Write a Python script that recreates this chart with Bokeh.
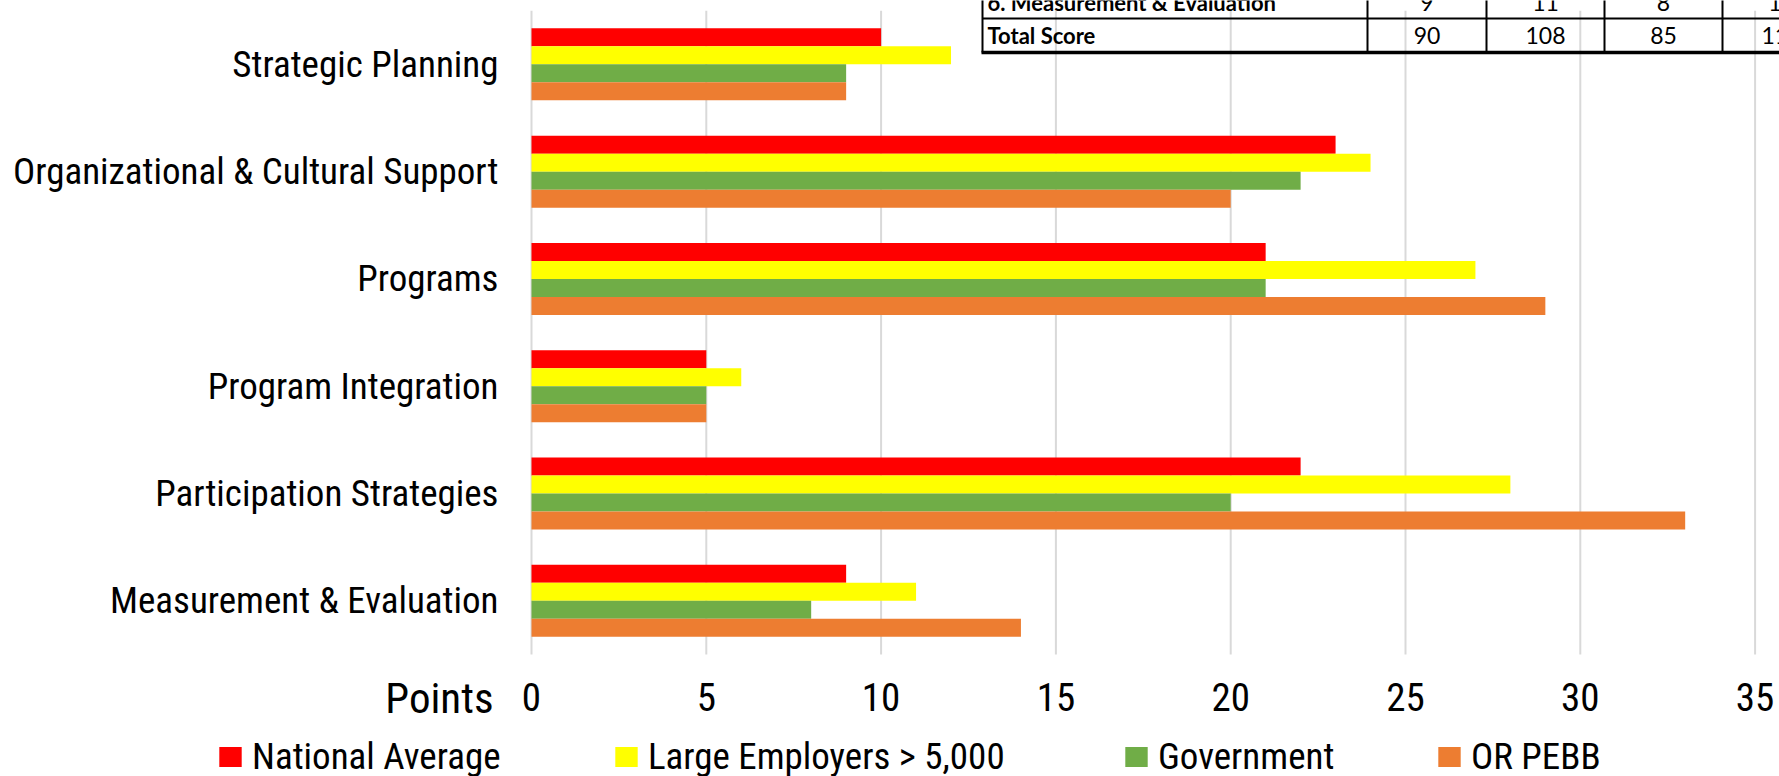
from bokeh.plotting import figure
from bokeh.models import Range1d, FixedTicker, Legend, LegendItem, Label
from bokeh.embed import file_html
from bokeh.resources import INLINE
from bokeh.core.properties import value

# ---------------- data ----------------
categories = ["Strategic Planning", "Organizational & Cultural Support", "Programs",
              "Program Integration", "Participation Strategies", "Measurement & Evaluation"]
series_names = ["National Average", "Large Employers > 5,000", "Government", "OR PEBB"]
national_average = [10, 23, 21, 5, 22, 9]
large_employers = [12, 24, 27, 6, 28, 11]
government = [9, 22, 21, 5, 20, 8]
or_pebb = [9, 20, 29, 5, 33, 14]
x_ticks = [0, 5, 10, 15, 20, 25, 30, 35]
x_axis_title = "Points"
table_rows = ["6. Measurement & Evaluation", "Total Score"]

series_values = [national_average, large_employers, government, or_pebb]

# ---------------- layout / style ----------------
W, H = 1779, 776
X0 = 531               # px of x = 0
Y0 = 654               # px (from top) of the bottom of the category bands
PX_PER_X = 34.96       # px per point on x
PX_PER_CAT = 107.3     # px per category band
NARROW = "Liberation Sans Narrow, Arial Narrow, Roboto Condensed, Liberation Sans, sans-serif"
TABLE_FONT = "Lato, Carlito, Calibri, sans-serif"
colors = ["#ff0000", "#ffff00", "#70ad47", "#ed7d31"]

n = len(categories)
cat_y = [n - i - 0.5 for i in range(n)]


def dx(px):
    return (px - X0) / PX_PER_X


def dy(py):
    return (Y0 - py) / PX_PER_CAT


p = figure(width=W, height=H, x_range=Range1d(dx(0), dx(W)), y_range=Range1d(dy(H), dy(0)),
           output_backend="svg", toolbar_location=None,
           min_border_left=0, min_border_right=0, min_border_top=0, min_border_bottom=0,
           outline_line_color=None,
           background_fill_color="white", border_fill_color="white")

p.xgrid.visible = False
p.ygrid.visible = False

# vertical grid lines spanning the category bands
p.segment(x0=x_ticks, y0=[0] * len(x_ticks), x1=x_ticks, y1=[n] * len(x_ticks),
          line_color="#d9d9d9", line_width=2)

bar_h = 18 / PX_PER_CAT
offsets = [1.5, 0.5, -0.5, -1.5]
renderers = []
for vals, col, off in zip(series_values, colors, offsets):
    r = p.hbar(y=[c + off * bar_h for c in cat_y], left=0, right=vals, height=bar_h,
               fill_color=col, line_color=None)
    renderers.append(r)

# axes (fixed inside the full-canvas frame)
xa = p.xaxis[0]
xa.fixed_location = 0
xa.ticker = FixedTicker(ticks=x_ticks, minor_ticks=[])
xa.axis_line_color = None
xa.major_tick_line_color = None
xa.minor_tick_line_color = None
xa.major_label_text_font = NARROW
xa.major_label_text_font_size = "39px"
xa.major_label_text_color = "black"
xa.major_label_standoff = 22

ya = p.yaxis[0]
ya.fixed_location = 0
ya.ticker = FixedTicker(ticks=cat_y, minor_ticks=[])
ya.major_label_overrides = {y: c for y, c in zip(cat_y, categories)}
ya.axis_line_color = None
ya.major_tick_line_color = None
ya.minor_tick_line_color = None
ya.major_label_text_font = NARROW
ya.major_label_text_font_size = "37px"
ya.major_label_text_color = "black"
ya.major_label_standoff = 27

# "Points" title left of tick labels
p.add_layout(Label(x=dx(493), y=dy(697), text=x_axis_title, text_align="right",
                   text_baseline="alphabetic", text_font=NARROW, text_font_size="43px",
                   text_color="black"))

# legends (one per series for exact placement)
legend_px = [216, 612, 1122, 1435]
for name, r, lx in zip(series_names, renderers, legend_px):
    leg = Legend(items=[LegendItem(label=name, renderers=[r])],
                 location=(lx, -2), orientation="horizontal",
                 padding=0, margin=0, spacing=0, glyph_width=28, glyph_height=25,
                 label_standoff=8, label_text_font=NARROW, label_text_font_size="37px",
                 label_text_color="black", border_line_color=None,
                 background_fill_alpha=0)
    p.add_layout(leg)

# partial summary table in the top-right corner
totals = [sum(v) for v in series_values]
row_vals = [[v[-1] for v in series_values], totals]
col_centers = [1426.5, 1545, 1663, 1781]
row_base = [2, 35]
for label, vals, base in zip(table_rows, row_vals, row_base):
    p.text(x=[dx(987)], y=[dy(base)], text=[label], text_font=value(TABLE_FONT),
           text_font_style="bold", text_font_size="22px", text_baseline="alphabetic",
           text_align="left", text_color="black")
    p.text(x=[dx(c) for c in col_centers], y=[dy(base)] * len(vals),
           text=[str(v) for v in vals], text_font=value(TABLE_FONT),
           text_font_size="23px", text_baseline="alphabetic", text_align="center",
           text_color="black")

vlines = [982, 1367, 1486, 1604, 1722]
p.segment(x0=[dx(v) for v in vlines], y0=[dy(-2)] * len(vlines),
          x1=[dx(v) for v in vlines], y1=[dy(52)] * len(vlines),
          line_color="black", line_width=2)
p.segment(x0=[dx(982)], y0=[dy(18)], x1=[dx(1800)], y1=[dy(18)],
          line_color="black", line_width=2)
p.segment(x0=[dx(981)], y0=[dy(52)], x1=[dx(1800)], y1=[dy(52)],
          line_color="black", line_width=3.5)

open("out.html", "w").write(file_html(p, INLINE))
